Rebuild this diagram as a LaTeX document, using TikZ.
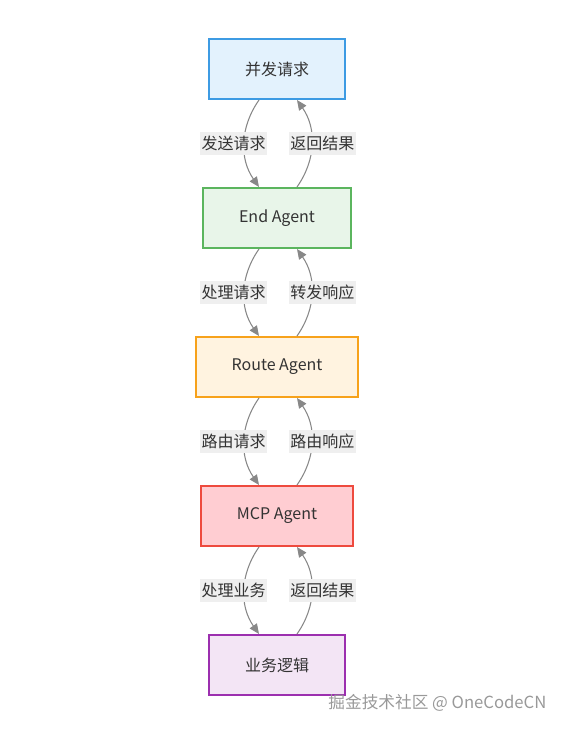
\documentclass[tikz,border=0pt]{standalone}
\usepackage{fontspec}
\setmainfont{Noto Sans CJK SC}
\usetikzlibrary{positioning,arrows.meta}

\definecolor{reqbd}{HTML}{3D9BE3}
\definecolor{reqbg}{HTML}{E3F2FD}
\definecolor{endbd}{HTML}{5BB55E}
\definecolor{endbg}{HTML}{E8F5E9}
\definecolor{routebd}{HTML}{F7A21B}
\definecolor{routebg}{HTML}{FFF3E0}
\definecolor{mcpbd}{HTML}{EE4A3E}
\definecolor{mcpbg}{HTML}{FFCDD2}
\definecolor{bizbd}{HTML}{9C2FAF}
\definecolor{bizbg}{HTML}{F3E5F5}
\definecolor{linegray}{HTML}{888888}
\definecolor{tagbg}{HTML}{EFEFEF}

\tikzset{
  box/.style={draw, line width=1.5pt, minimum height=45pt, inner xsep=27pt,
    font=\fontsize{12}{14}\selectfont, text=black!80},
  flow/.style={->, draw=linegray, line width=0.8pt, bend right=35},
  tag/.style={fill=tagbg, inner xsep=1pt, inner ysep=3pt,
    font=\fontsize{12}{14}\selectfont, text=black!80},
}

\begin{document}
\begin{tikzpicture}[>={Triangle[length=7.5pt,width=6.5pt]}, node distance=65.25pt]
\useasboundingbox (0,0) rectangle (423.75pt,-548.25pt);

\node[box, draw=reqbd, fill=reqbg] (req) at (207.75pt,-51.75pt) {并发请求};
\node[box, draw=endbd, fill=endbg, below=of req] (end) {End Agent};
\node[box, draw=routebd, fill=routebg, below=of end] (route) {Route Agent};
\node[box, draw=mcpbd, fill=mcpbg, below=of route] (mcp) {MCP Agent};
\node[box, draw=bizbd, fill=bizbg, below=of mcp] (biz) {业务逻辑};

% down: requests, up: responses
\draw[flow] ([xshift=-13.5pt]req.south) to node[tag, xshift=-8pt] {发送请求} ([xshift=-13.5pt]end.north);
\draw[flow] ([xshift=15pt]end.north) to node[tag, xshift=8pt] {返回结果} ([xshift=15pt]req.south);
\draw[flow] ([xshift=-13.5pt]end.south) to node[tag, xshift=-8pt] {处理请求} ([xshift=-13.5pt]route.north);
\draw[flow] ([xshift=15pt]route.north) to node[tag, xshift=8pt] {转发响应} ([xshift=15pt]end.south);
\draw[flow] ([xshift=-13.5pt]route.south) to node[tag, xshift=-8pt] {路由请求} ([xshift=-13.5pt]mcp.north);
\draw[flow] ([xshift=15pt]mcp.north) to node[tag, xshift=8pt] {路由响应} ([xshift=15pt]route.south);
\draw[flow] ([xshift=-13.5pt]mcp.south) to node[tag, xshift=-8pt] {处理业务} ([xshift=-13.5pt]biz.north);
\draw[flow] ([xshift=15pt]biz.north) to node[tag, xshift=8pt] {返回结果} ([xshift=15pt]mcp.south);

% watermark
\node[anchor=east, text=black!40, font=\fontsize{12.5}{14}\selectfont, inner sep=0pt] (mark) at (410pt,-527pt) {掘金技术社区 @ OneCodeCN};
\end{tikzpicture}
\end{document}
